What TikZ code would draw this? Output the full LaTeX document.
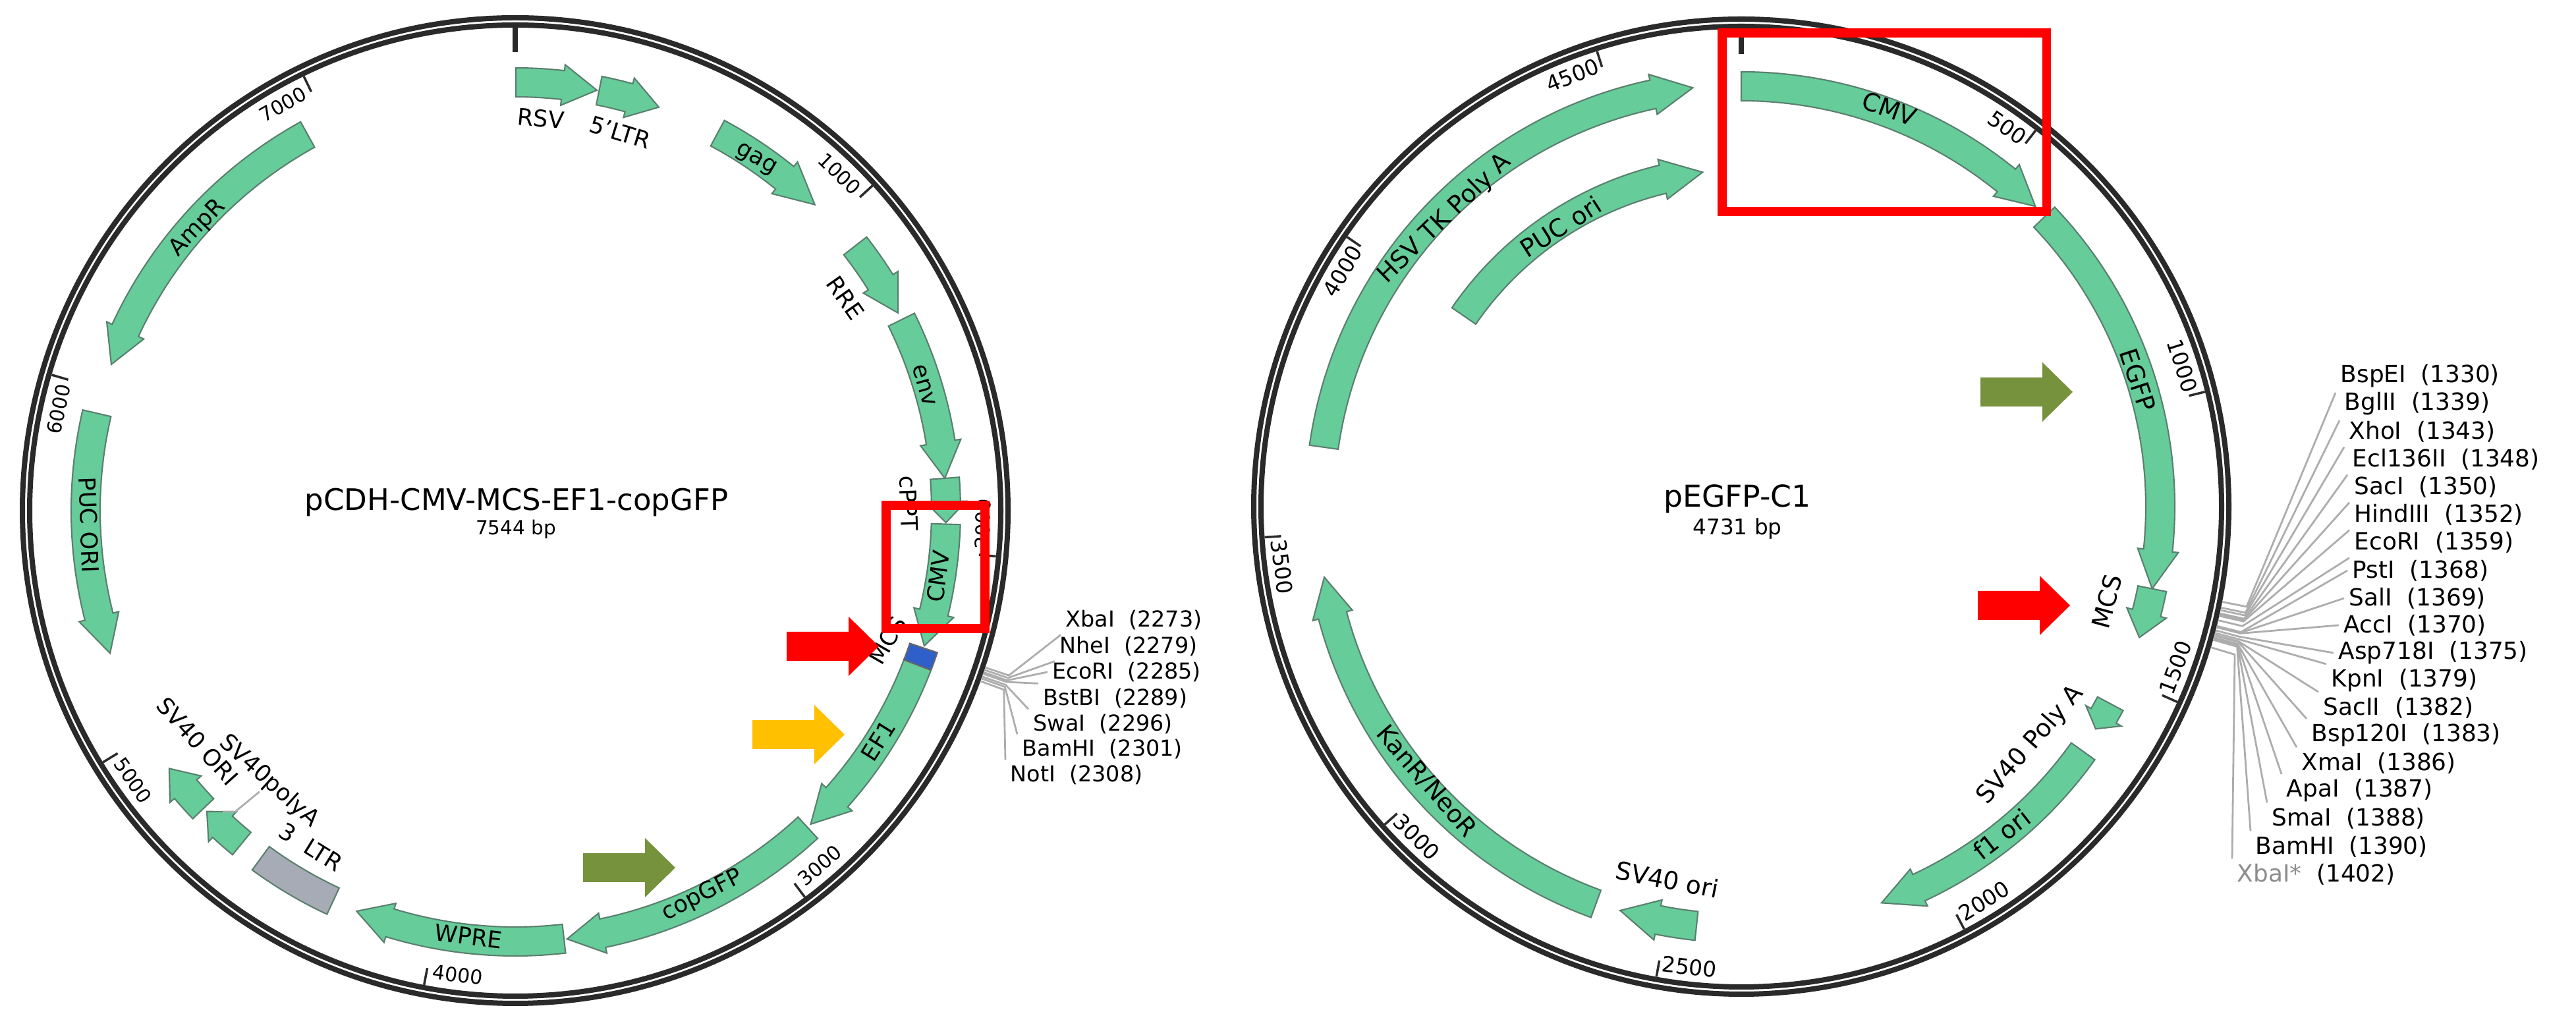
\documentclass[tikz,border=0pt]{standalone}
\usepackage{fontspec}
\setmainfont{DejaVu Sans}
\usepackage{xcolor}
\usetikzlibrary{calc}

\definecolor{genegreen}{HTML}{66CC99}
\definecolor{geneedge}{HTML}{5A7F6E}
\definecolor{ringblack}{HTML}{2A2A2A}
\definecolor{ltrgrey}{HTML}{A6ABB5}
\definecolor{mcsblue}{HTML}{2F5FC8}
\definecolor{promyellow}{HTML}{FFC000}
\definecolor{gfpolive}{HTML}{76923C}

\tikzset{
    gene/.style={draw=geneedge, fill=genegreen, line width=0.6pt},
    ring/.style={draw=ringblack, line width=0.08cm},
    tickmark/.style={draw=ringblack, line width=0.035cm},
    zeromark/.style={draw=ringblack, line width=0.075cm},
    site/.style={draw=black!32, line width=0.028cm},
    genelabL/.style={font=\fontsize{10}{12}\selectfont, inner sep=1pt},
    genelabR/.style={font=\fontsize{10.7}{13}\selectfont, inner sep=1pt},
    ticklabL/.style={font=\fontsize{8.5}{10}\selectfont, inner sep=0pt},
    ticklabR/.style={font=\fontsize{9.3}{11}\selectfont, inner sep=0pt},
    sitelabL/.style={font=\fontsize{9.5}{11}\selectfont, inner sep=2pt, anchor=west},
    sitelabR/.style={font=\fontsize{10.2}{12}\selectfont, inner sep=2pt, anchor=west},
    titlelab/.style={inner sep=0pt, anchor=base},
    redbox/.style={draw=red, line width=0.135cm}
}

% feature arrow: radius, tail, head start, tip (degrees clockwise from top)
\newcommand{\featarrow}[4]{
    \pgfmathsetmacro{\ta}{90-#2}
    \pgfmathsetmacro{\ha}{90-#3}
    \pgfmathsetmacro{\pa}{90-#4}
    \pgfmathsetmacro{\ro}{#1+0.22}
    \pgfmathsetmacro{\ri}{#1-0.22}
    \pgfmathsetmacro{\bo}{#1+0.31}
    \pgfmathsetmacro{\bi}{#1-0.31}
    \draw[gene] (\ta:\ro) arc[start angle=\ta, end angle=\ha, radius=\ro]
        -- (\ha:\bo) -- (\pa:#1) -- (\ha:\bi) -- (\ha:\ri)
        arc[start angle=\ha, end angle=\ta, radius=\ri] -- cycle;
}
% feature without head: style, radius, from, to
\newcommand{\featblock}[4]{
    \pgfmathsetmacro{\ta}{90-#3}
    \pgfmathsetmacro{\ha}{90-#4}
    \pgfmathsetmacro{\ro}{#2+0.22}
    \pgfmathsetmacro{\ri}{#2-0.22}
    \draw[#1] (\ta:\ro) arc[start angle=\ta, end angle=\ha, radius=\ro]
        -- (\ha:\ri) arc[start angle=\ha, end angle=\ta, radius=\ri] -- cycle;
}
% marker arrow: colour, left end, height
\newcommand{\markarrow}[3]{
    \fill[#1] (#2,#3) ++(0,0.22) -- ++(0.94,0) -- ++(0,0.23) -- ++(0.46,-0.45)
        -- ++(-0.46,-0.45) -- ++(0,0.23) -- ++(-0.94,0) -- cycle;
}

\begin{document}
\begin{tikzpicture}
    \useasboundingbox (0,0) rectangle (39.1,15.33);

    % Left plasmid
    \begin{scope}[shift={(7.82,7.58)}]
        \draw[ring] (0,0) circle (7.48);
        \draw[ring] (0,0) circle (7.37);

        % Ticks
        \draw[zeromark] (90:7.35) -- (90:6.96);
        \foreach \bp in {1000,2000,...,7000} {
            \pgfmathsetmacro{\ang}{\bp/7544*360}
            \pgfmathsetmacro{\th}{\ang-3.8}
            \pgfmathsetmacro{\rot}{ifthenelse(\th<90,-\th,ifthenelse(\th<270,180-\th,360-\th))}
            \draw[tickmark] ({90-\ang}:7.33) -- ({90-\ang}:7.07);
            \node[ticklabL, rotate=\rot] (ltick\bp) at ({90-\th}:7.1) {\bp};
        }

        % Features
        \foreach \r/\t/\h/\p in {6.5/0.1/6.4/11, 6.5/11.3/15.4/19.6, 6.5/28.2/39/44.4,
            6.54/52.1/58/62.7, 6.54/63.7/80.9/85.7, 6.54/85.7/88.8/91.6, 6.54/91.8/103.7/108.3,
            6.54/110.9/131.7/136.7, 6.55/137.3/168.3/173.1, 6.54/173.5/196.9/201.6,
            6.54/219.4/222.8/225.7, 6.55/226.3/229.8/233.3, 6.52/283.1/255.7/250.6,
            6.52/331.1/294.8/289.9} {
            \featarrow{\r}{\t}{\h}{\p}
        }
        \featblock{draw=black!60, fill=mcsblue, line width=0.6pt}{6.54}{108.6}{111}
        \featblock{draw=geneedge, fill=ltrgrey, line width=0.6pt}{6.54}{205}{216.2}

        % Feature labels
        \foreach \nm/\x/\y/\rot/\txt in {lrsv/0.39/5.95/-5/RSV, lltr/1.59/5.74/-17/5'LTR,
            lgag/3.65/5.32/-30/gag, lrre/5.01/3.23/-55/RRE, lenv/6.21/1.90/-74/env,
            lcppt/5.97/0.11/-88/cPPT, lcmv/6.42/-1.00/82/CMV, lmcs/5.65/-1.97/60/MCS,
            lef/5.51/-3.49/58/EF1, lcop/2.84/-5.84/27/copGFP, lwpre/-0.71/-6.46/-7/WPRE,
            lltrb/-3.10/-5.11/-32/3~~LTR, lpolya/-3.74/-4.11/-42/SV40polyA,
            lsvori/-4.82/-3.50/-48/SV40 ORI, lpuc/-6.47/-0.22/-88/PUC ORI,
            lamp/-4.82/4.29/46/AmpR} {
            \node[genelabL, rotate=\rot] (\nm) at (\x,\y) {\txt};
        }
        \coordinate (lpolyend) at (-4.25,-4.57);
        \draw[site] (lpolya.south) -- (lpolyend) -- ++(-0.19,0);

        % Sites
        \foreach \nm/\bp/\x/\y/\anc in {XbaI/2273/8.28/-1.66/south west, NheI/2279/8.19/-2.06/south west,
            EcoRI/2285/8.08/-2.45/west, BstBI/2289/7.94/-2.85/north west,
            SwaI/2296/7.79/-3.24/north west, BamHI/2301/7.62/-3.62/north west,
            NotI/2308/7.44/-4.01/north west} {
            \pgfmathsetmacro{\ang}{90-\bp/7544*360}
            \node[sitelabL] (l\nm) at (\x,\y) {\nm~~(\bp)};
            \draw[site] (\ang:7.52) -- (\ang:7.90) -- (l\nm.\anc);
        }

        \node[titlelab, font=\fontsize{12.8}{15}\selectfont] (ltitle) at (0.02,0) {pCDH-CMV-MCS-EF1-copGFP};
        \node[titlelab, font=\fontsize{8.4}{10}\selectfont] (lsize) at (0.01,-0.37) {7544 bp};
    \end{scope}

    % Right plasmid
    \begin{scope}[shift={(26.43,7.64)}]
        \draw[ring] (0,0) circle (7.40);
        \draw[ring] (0,0) circle (7.29);

        % Ticks
        \draw[zeromark] (90:7.12) -- (90:6.87);
        \foreach \bp/\gap in {500/3.0,1000/3.8,1500/3.8,2000/3.8,2500/3.8,3000/3.8,3500/3.8,4000/3.8,4500/3.8} {
            \pgfmathsetmacro{\ang}{\bp/4731*360}
            \pgfmathsetmacro{\th}{\ang-\gap}
            \pgfmathsetmacro{\rot}{ifthenelse(\th<90,-\th,ifthenelse(\th<270,180-\th,360-\th))}
            \draw[tickmark] ({90-\ang}:7.25) -- ({90-\ang}:7.00);
            \node[ticklabR, rotate=\rot] (rtick\bp) at ({90-\th}:7.03) {\bp};
        }

        % Features
        \foreach \r/\t/\h/\p in {6.38/0/39.1/44.4, 6.36/46.3/96/101.3, 6.36/101.3/104.7/108.2,
            6.35/118.1/120/122.1, 6.38/125.6/155/160.5, 6.40/186.1/191.4/196.7,
            6.42/200.1/255.1/260.4, 6.40/278.1/347.9/353.4, 5.11/304.5/346.5/353.4} {
            \featarrow{\r}{\t}{\h}{\p}
        }

        % Feature labels
        \foreach \nm/\x/\y/\rot/\txt in {rcmv/2.25/6.04/-20/CMV, regfp/6.02/1.92/-72/EGFP,
            rmcs/5.55/-1.44/75/MCS, rpolya/4.39/-3.62/49/SV40 Poly A, rfone/3.95/-4.97/38/f1 ori,
            rsvori/-1.12/-5.66/-11/SV40 ori, rkan/-4.78/-4.17/-49/{KanR/NeoR},
            rhsv/-4.50/4.37/44/HSV TK Poly A, rpuc/-2.74/4.25/32.5/PUC ori} {
            \node[genelabR, rotate=\rot] (\nm) at (\x,\y) {\txt};
        }

        % Sites
        \foreach \nm/\bp/\x/\y/\anc in {BspEI/1330/9.02/1.98/south west, BglII/1339/9.08/1.56/south west,
            XhoI/1343/9.15/1.14/south west, Ecl136II/1348/9.20/0.72/south west,
            SacI/1350/9.23/0.30/south west, HindIII/1352/9.23/-0.12/south west,
            EcoRI/1359/9.23/-0.54/south west, PstI/1368/9.20/-0.97/west,
            SalI/1369/9.15/-1.39/west, AccI/1370/9.07/-1.80/west,
            Asp718I/1375/8.99/-2.22/west, KpnI/1379/8.88/-2.64/north west,
            SacII/1382/8.76/-3.05/north west, Bsp120I/1383/8.58/-3.47/north west,
            XmaI/1386/8.43/-3.89/north west, ApaI/1387/8.20/-4.31/north west,
            SmaI/1388/7.98/-4.73/north west, BamHI/1390/7.73/-5.16/north west} {
            \pgfmathsetmacro{\ang}{90-\bp/4731*360}
            \node[sitelabR] (r\nm) at (\x,\y) {\nm~~(\bp)};
            \draw[site] (\ang:7.44) -- (\ang:7.82) -- (r\nm.\anc);
        }
        \pgfmathsetmacro{\ang}{90-1402/4731*360}
        \node[sitelabR] (rXbaI) at (7.45,-5.58) {\textcolor{black!45}{XbaI*}~~(1402)};
        \draw[site] (\ang:7.44) -- (\ang:7.82) -- (rXbaI.north west);

        \node[titlelab, font=\fontsize{13}{15}\selectfont] (rtitle) at (-0.06,-0.01) {pEGFP-C1};
        \node[titlelab, font=\fontsize{9.3}{11}\selectfont] (rsize) at (-0.06,-0.43) {4731 bp};
    \end{scope}

    % Marker arrows
    \markarrow{red}{11.94}{5.52}
    \markarrow{promyellow}{11.42}{4.18}
    \markarrow{gfpolive}{8.85}{2.16}
    \markarrow{gfpolive}{30.06}{9.38}
    \markarrow{red}{30.02}{6.14}

    % Red boxes
    \draw[redbox] (13.45,5.79) rectangle (14.95,7.66);
    \draw[redbox] (26.14,12.12) rectangle (31.065,14.83);
\end{tikzpicture}
\end{document}
